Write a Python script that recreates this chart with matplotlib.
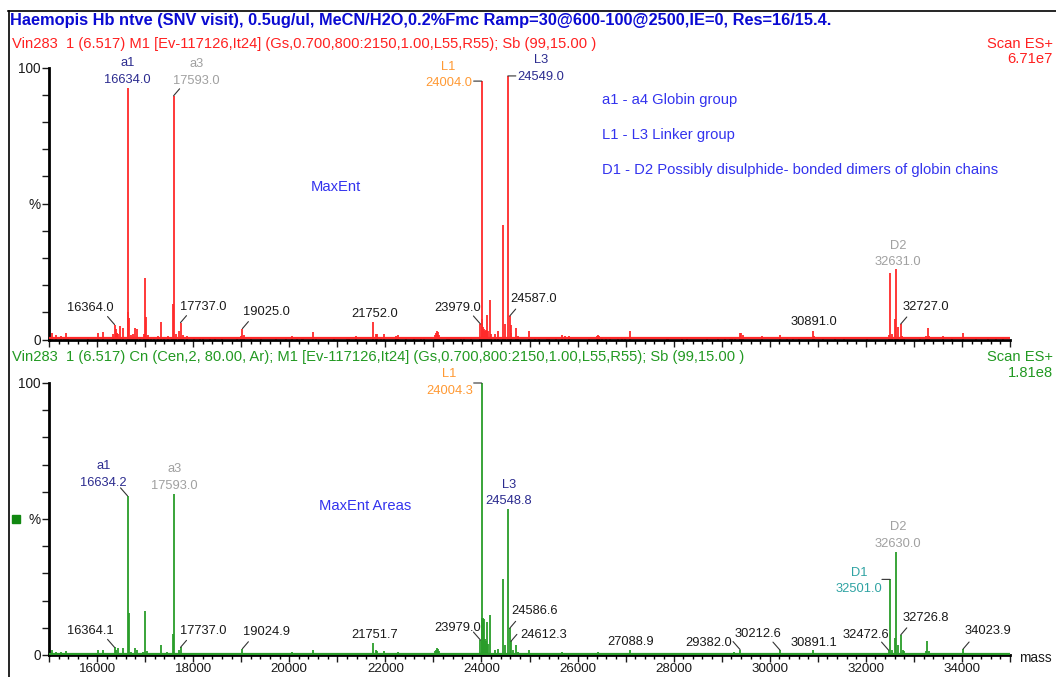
import numpy as np
import matplotlib.pyplot as plt
from matplotlib.ticker import MultipleLocator, FuncFormatter
from matplotlib.patches import Rectangle
from matplotlib.lines import Line2D

plt.rcParams['font.family'] = ['Liberation Sans', 'DejaVu Sans']

# ---- data: MaxEnt (top) stick spectrum, mass / relative intensity (%)
top_mass = [15068, 15150, 15255, 15310, 15360, 15400, 15808, 16016, 16134, 16330,
            16364.0, 16385, 16410, 16440, 16480, 16535, 16634.0, 16650, 16672, 16700,
            16750, 16792, 16830, 16900, 16980, 17006, 17020, 17050, 17120, 17193,
            17262, 17324, 17400, 17470, 17560, 17581, 17593.0, 17640, 17700, 17737.0,
            17780, 17872, 18024, 18142, 18211, 18350, 18454, 18600, 18911, 18994,
            19025.0, 19060, 19200, 19409, 19721, 19929, 20065, 20170, 20261, 20288,
            20502, 20564, 20932, 21208, 21243, 21395, 21752.0, 21797, 21831, 21901,
            21976, 22212, 22266, 22420, 22593, 22732, 22801, 23040, 23060, 23077,
            23095, 23115, 23284, 23334, 23583, 23631, 23791, 23979.0, 24004.0, 24020,
            24035, 24050, 24080, 24100, 24115, 24140, 24171, 24200, 24289, 24344,
            24441, 24482, 24549.0, 24587.0, 24605, 24625, 24717, 24770, 24996, 25120,
            25204, 25362, 25412, 25557, 25673, 25744, 25812, 26228, 26400, 26430,
            26450, 26519, 26588, 26679, 26850, 26919, 26989, 27093, 27854, 27889,
            28165, 28269, 28684, 28927, 29066, 29183, 29220, 29274, 29382, 29410,
            29446, 29848, 30209, 30350, 30480, 30600, 30891.0, 30920, 31100, 31350,
            31550, 32023, 32473, 32501, 32545, 32603, 32631.0, 32665, 32727.0, 32760,
            32800, 33129, 33260, 33289, 33320, 33615, 33800, 34016, 34300, 34550,
            34700, 34850]
top_int = [2.3, 1.5, 1.4, 0.8, 2.3, 1.0, 0.8, 2.3, 2.7, 2.0,
           5.5, 3.8, 2.5, 2.0, 5.0, 4.3, 92.6, 10.2, 7.9, 1.5,
           2.0, 4.3, 3.8, 1.0, 2.0, 22.7, 8.3, 1.5, 1.0, 0.8,
           1.3, 6.5, 0.8, 1.3, 1.0, 13.0, 89.6, 2.0, 3.0, 6.2,
           1.5, 1.3, 1.0, 1.0, 1.0, 1.0, 1.0, 0.6, 1.0, 1.2,
           4.0, 1.5, 0.7, 0.7, 0.5, 0.5, 1.4, 0.8, 0.8, 0.8,
           2.9, 0.8, 0.6, 0.8, 0.8, 1.3, 6.5, 2.0, 2.0, 1.0,
           2.0, 1.3, 1.6, 1.0, 0.8, 0.8, 0.8, 1.5, 2.5, 3.2,
           2.6, 1.5, 0.8, 0.8, 1.0, 1.0, 0.8, 5.7, 95.0, 7.4,
           4.5, 3.7, 3.0, 3.5, 9.0, 3.2, 14.5, 2.0, 2.0, 3.0,
           42.0, 5.7, 96.9, 8.6, 5.2, 2.3, 4.3, 1.4, 3.1, 0.8,
           0.8, 0.8, 0.8, 1.0, 1.6, 1.2, 1.2, 0.8, 1.4, 1.6,
           1.2, 0.8, 0.8, 0.6, 1.0, 1.0, 1.0, 3.1, 1.0, 0.8,
           1.0, 0.6, 0.6, 1.0, 0.6, 1.0, 1.0, 1.0, 2.3, 2.5,
           1.8, 1.2, 1.5, 0.5, 0.6, 0.5, 3.1, 1.2, 0.6, 0.8,
           0.5, 0.8, 1.6, 24.5, 2.0, 7.4, 25.8, 4.7, 5.7, 1.2,
           1.0, 1.0, 1.2, 4.3, 1.2, 1.2, 0.6, 2.3, 0.6, 0.8,
           0.7, 0.6]

# ---- data: MaxEnt Areas (bottom)
bot_mass = [15068, 15150, 15255, 15360, 15600, 15808, 16016, 16134, 16364.1, 16390,
            16440, 16530, 16634.2, 16660, 16700, 16792, 16830, 16950, 17006, 17030,
            17200, 17324, 17450, 17581, 17593.0, 17700, 17737.0, 17870, 18050, 18200,
            18450, 18700, 18900, 19024.9, 19200, 19500, 19800, 20065, 20300, 20502,
            20800, 21000, 21250, 21500, 21751.7, 21797, 21831, 21976, 22266, 22420,
            22700, 23040, 23060, 23077, 23095, 23115, 23300, 23600, 23979.0, 24004.3,
            24020, 24035, 24050, 24080, 24100, 24115, 24140, 24171, 24289, 24344,
            24441, 24482, 24548.8, 24586.6, 24612.3, 24650, 24717, 24770, 24996, 25400,
            25673, 26000, 26430, 26800, 27088.9, 27500, 28000, 28500, 29000, 29250,
            29382.0, 29700, 30000, 30212.6, 30500, 30891.1, 31200, 31600, 32023, 32472.6,
            32501.0, 32545, 32600, 32630.0, 32665, 32726.8, 32770, 32800, 33260, 33281,
            33320, 33600, 34023.9, 34300, 34600, 34800]
bot_int = [1.8, 1.2, 1.2, 1.5, 0.6, 0.7, 2.0, 2.0, 2.8, 2.0,
           2.4, 2.4, 58.5, 15.6, 1.0, 2.4, 1.9, 1.0, 16.2, 1.5,
           0.8, 3.7, 1.0, 7.7, 59.2, 1.9, 2.8, 0.8, 0.8, 0.7,
           0.7, 0.6, 0.8, 2.3, 0.5, 0.6, 0.5, 1.0, 0.6, 2.0,
           0.5, 0.5, 0.8, 0.6, 4.3, 2.0, 1.5, 1.6, 1.0, 0.7,
           0.6, 1.5, 2.0, 2.6, 2.3, 1.5, 0.8, 0.7, 5.5, 100.0,
           13.5, 13.5, 13.2, 6.0, 5.0, 12.1, 4.0, 14.7, 1.8, 2.3,
           28.0, 3.5, 53.6, 9.8, 5.0, 2.0, 3.5, 1.0, 2.0, 0.7,
           1.0, 0.6, 1.2, 0.8, 1.8, 0.6, 0.6, 0.5, 0.6, 1.0,
           2.0, 0.8, 0.8, 1.8, 0.7, 1.8, 0.6, 0.6, 0.8, 1.8,
           27.8, 2.0, 6.2, 38.0, 3.5, 7.4, 1.8, 1.5, 1.5, 5.0,
           1.5, 0.8, 2.2, 0.6, 0.8, 0.7]

noise_level = 0.5

# labelled peaks
top_lab_mass = [16634.0, 17593.0, 24004.0, 24549.0, 32631.0, 16364.0, 17737.0,
                19025.0, 21752.0, 23979.0, 24587.0, 30891.0, 32727.0]
top_lab_name = ['a1', 'a3', 'L1', 'L3', 'D2', '', '', '', '', '', '', '', '']
bot_lab_mass = [16634.2, 17593.0, 24004.3, 24548.8, 32630.0, 32501.0, 16364.1,
                17737.0, 19024.9, 21751.7, 23979.0, 24586.6, 24612.3, 27088.9,
                29382.0, 30212.6, 30891.1, 32472.6, 32726.8, 34023.9]
bot_lab_name = ['a1', 'a3', 'L1', 'L3', 'D2', 'D1'] + [''] * 14

title = ('Haemopis Hb ntve (SNV visit), 0.5ug/ul, MeCN/H2O,0.2%Fmc '
         'Ramp=30@600-100@2500,IE=0, Res=16/15.4.')
top_head = 'Vin283  1 (6.517) M1 [Ev-117126,It24] (Gs,0.700,800:2150,1.00,L55,R55); Sb (99,15.00 )'
bot_head = ('Vin283  1 (6.517) Cn (Cen,2, 80.00, Ar); M1 [Ev-117126,It24] '
            '(Gs,0.700,800:2150,1.00,L55,R55); Sb (99,15.00 )')
top_scale = '6.71e7'
bot_scale = '1.81e8'
notes = ['a1 - a4 Globin group', 'L1 - L3 Linker group',
         'D1 - D2 Possibly disulphide- bonded dimers of globin chains']

# ---- layout (pixels), label offsets relative to peak top: (dx, dy, leader)
top_lay = [(0, 8, None), (23, 15, 'r'), (-33, -2, 'hl'), (33, -1, 'hr'), (2, 7, None),
           (-24, 17, 'l'), (23, 16, 'r'), (24, 17, 'r'), (1, 8, None), (-23, 16, 'l'),
           (24, 17, 'r'), (1, 9, None), (25, 17, 'r')]
bot_lay = [(-24, 13, 'l'), (1, 8, None), (-32, -8, 'hl'), (1, 8, None), (2, 8, None),
           (-31, -10, 'hl'), (-24, 16, 'l'), (23, 16, 'r'), (24, 17, 'r'), (1, 8, None),
           (-23, 12, 'l'), (25, 17, 'r'), (33, 6, 'r'), (1, 8, None), (-31, 7, 'l'),
           (-22, 16, 'l'), (1, 7, None), (-23, 15, 'l'), (25, 17, 'r'), (25, 18, 'r')]

name_col = {'a1': '#2b2b8f', 'L3': '#2b2b8f', 'a3': '#a0a0a0', 'D2': '#a0a0a0',
            'L1': '#ff9933', 'D1': '#2fa3a3', '': '#1a1a1a'}
W, H = 1056, 677
FS = 9.3      # peak / tick labels
HS = 10.6     # header and note text
PT = 0.72     # points per pixel at 100 dpi


def fx(x):
    return x / W


def fy(y):
    return 1 - y / H


fig = plt.figure(figsize=(W / 100, H / 100), dpi=100)

# outer frame
fig.add_artist(Line2D([fx(8), fx(W)], [fy(11), fy(11)], color='black', lw=1.2))
fig.add_artist(Line2D([fx(8.5), fx(8.5)], [fy(11), fy(H)], color='black', lw=1.2))

fig.text(fx(10), fy(20), title, color='#0a0ad2', fontsize=11.8, fontweight='bold', va='center')
fig.text(fx(12), fy(44), top_head, color='#ff2020', fontsize=HS, va='center')
fig.text(fx(1053), fy(44), 'Scan ES+', color='#ff2020', fontsize=HS, va='center', ha='right')
fig.text(fx(1053), fy(59), top_scale, color='#ff2020', fontsize=HS, va='center', ha='right')
fig.text(fx(12), fy(357), bot_head, color='#229922', fontsize=HS, va='center')
fig.text(fx(1053), fy(357), 'Scan ES+', color='#229922', fontsize=HS, va='center', ha='right')
fig.text(fx(1053), fy(373), bot_scale, color='#229922', fontsize=HS, va='center', ha='right')
fig.text(fx(1019), fy(658), 'mass', color='#1a1a1a', fontsize=FS + 0.5, va='center')
fig.add_artist(Rectangle((fx(12), fy(523)), 8 / W, 8 / H, color='#118811'))

x_left, x_right = 49, 1010
ax_top = fig.add_axes([fx(x_left), fy(339.5), (x_right - x_left) / W, 272 / H])
ax_bot = fig.add_axes([fx(x_left), fy(655), (x_right - x_left) / W, 272 / H])


def style(ax, show_labels):
    ax.set_xlim(15000, 35000)
    ax.set_ylim(0, 100)
    for s in ['top', 'right']:
        ax.spines[s].set_visible(False)
    ax.spines['left'].set_linewidth(2)
    ax.spines['bottom'].set_linewidth(2)
    ax.set_yticks([0, 50, 100])
    ax.set_yticklabels(['0', '%', '100'])
    ax.yaxis.set_minor_locator(MultipleLocator(10))
    ax.tick_params(axis='y', which='both', direction='out', length=5, width=1,
                   labelsize=FS + 0.5, pad=1, colors='#1a1a1a')
    ax.xaxis.set_major_locator(MultipleLocator(1000))
    ax.xaxis.set_minor_locator(MultipleLocator(200))
    ax.tick_params(axis='x', which='major', direction='out', length=5, width=1,
                   labelsize=FS + 0.3, pad=0.5, colors='#1a1a1a')
    ax.tick_params(axis='x', which='minor', direction='out', length=3, width=1)
    if show_labels:
        ax.xaxis.set_major_formatter(
            FuncFormatter(lambda v, p: f'{int(v)}' if round(v) % 2000 == 0 else ''))
    else:
        ax.set_xticklabels([])
    ax.patch.set_alpha(0)


def draw(ax, mass, ints, color, lab_mass, lab_name, lay):
    mass = np.asarray(mass)
    ints = np.asarray(ints)
    ax.axhline(noise_level, color=color, lw=1.6, zorder=3)
    ax.vlines(mass, 0, ints, color=color, lw=1.3, zorder=2)
    for m, nm, (dx, dy, lead) in zip(lab_mass, lab_name, lay):
        h = ints[np.argmin(np.abs(mass - m))]
        col = name_col[nm]
        ax.annotate(f'{m:.1f}', xy=(m, h), xytext=(dx * PT, dy * PT),
                    textcoords='offset points', ha='center', va='center',
                    color=col, fontsize=FS, annotation_clip=False)
        if nm:
            ax.annotate(nm, xy=(m, h), xytext=(dx * PT, (dy + 16.5) * PT),
                        textcoords='offset points', ha='center', va='center',
                        color=col, fontsize=FS, annotation_clip=False)
        if lead:
            end = {'r': (6, 7), 'l': (-7, 8), 'hl': (-8, 0), 'hr': (8, 0)}[lead]
            ax.annotate('', xy=(m, h), xytext=(end[0] * PT, end[1] * PT),
                        textcoords='offset points', annotation_clip=False,
                        arrowprops=dict(arrowstyle='-', color='#333333', lw=0.8,
                                        shrinkA=0, shrinkB=0))


style(ax_top, False)
style(ax_bot, True)
draw(ax_top, top_mass, top_int, '#ff2a2a', top_lab_mass, top_lab_name, top_lay)
draw(ax_bot, bot_mass, bot_int, '#2a9d2a', bot_lab_mass, bot_lab_name, bot_lay)

note_col = '#3333ee'
fig.text(fx(336), fy(187), 'MaxEnt', color=note_col, fontsize=HS, ha='center', va='center')
fig.text(fx(365), fy(506), 'MaxEnt Areas', color=note_col, fontsize=HS, ha='center', va='center')
for i, t in enumerate(notes):
    fig.text(fx(602), fy(100 + 35 * i), t, color=note_col, fontsize=HS, va='center')

fig.savefig('out.png', dpi=100)
